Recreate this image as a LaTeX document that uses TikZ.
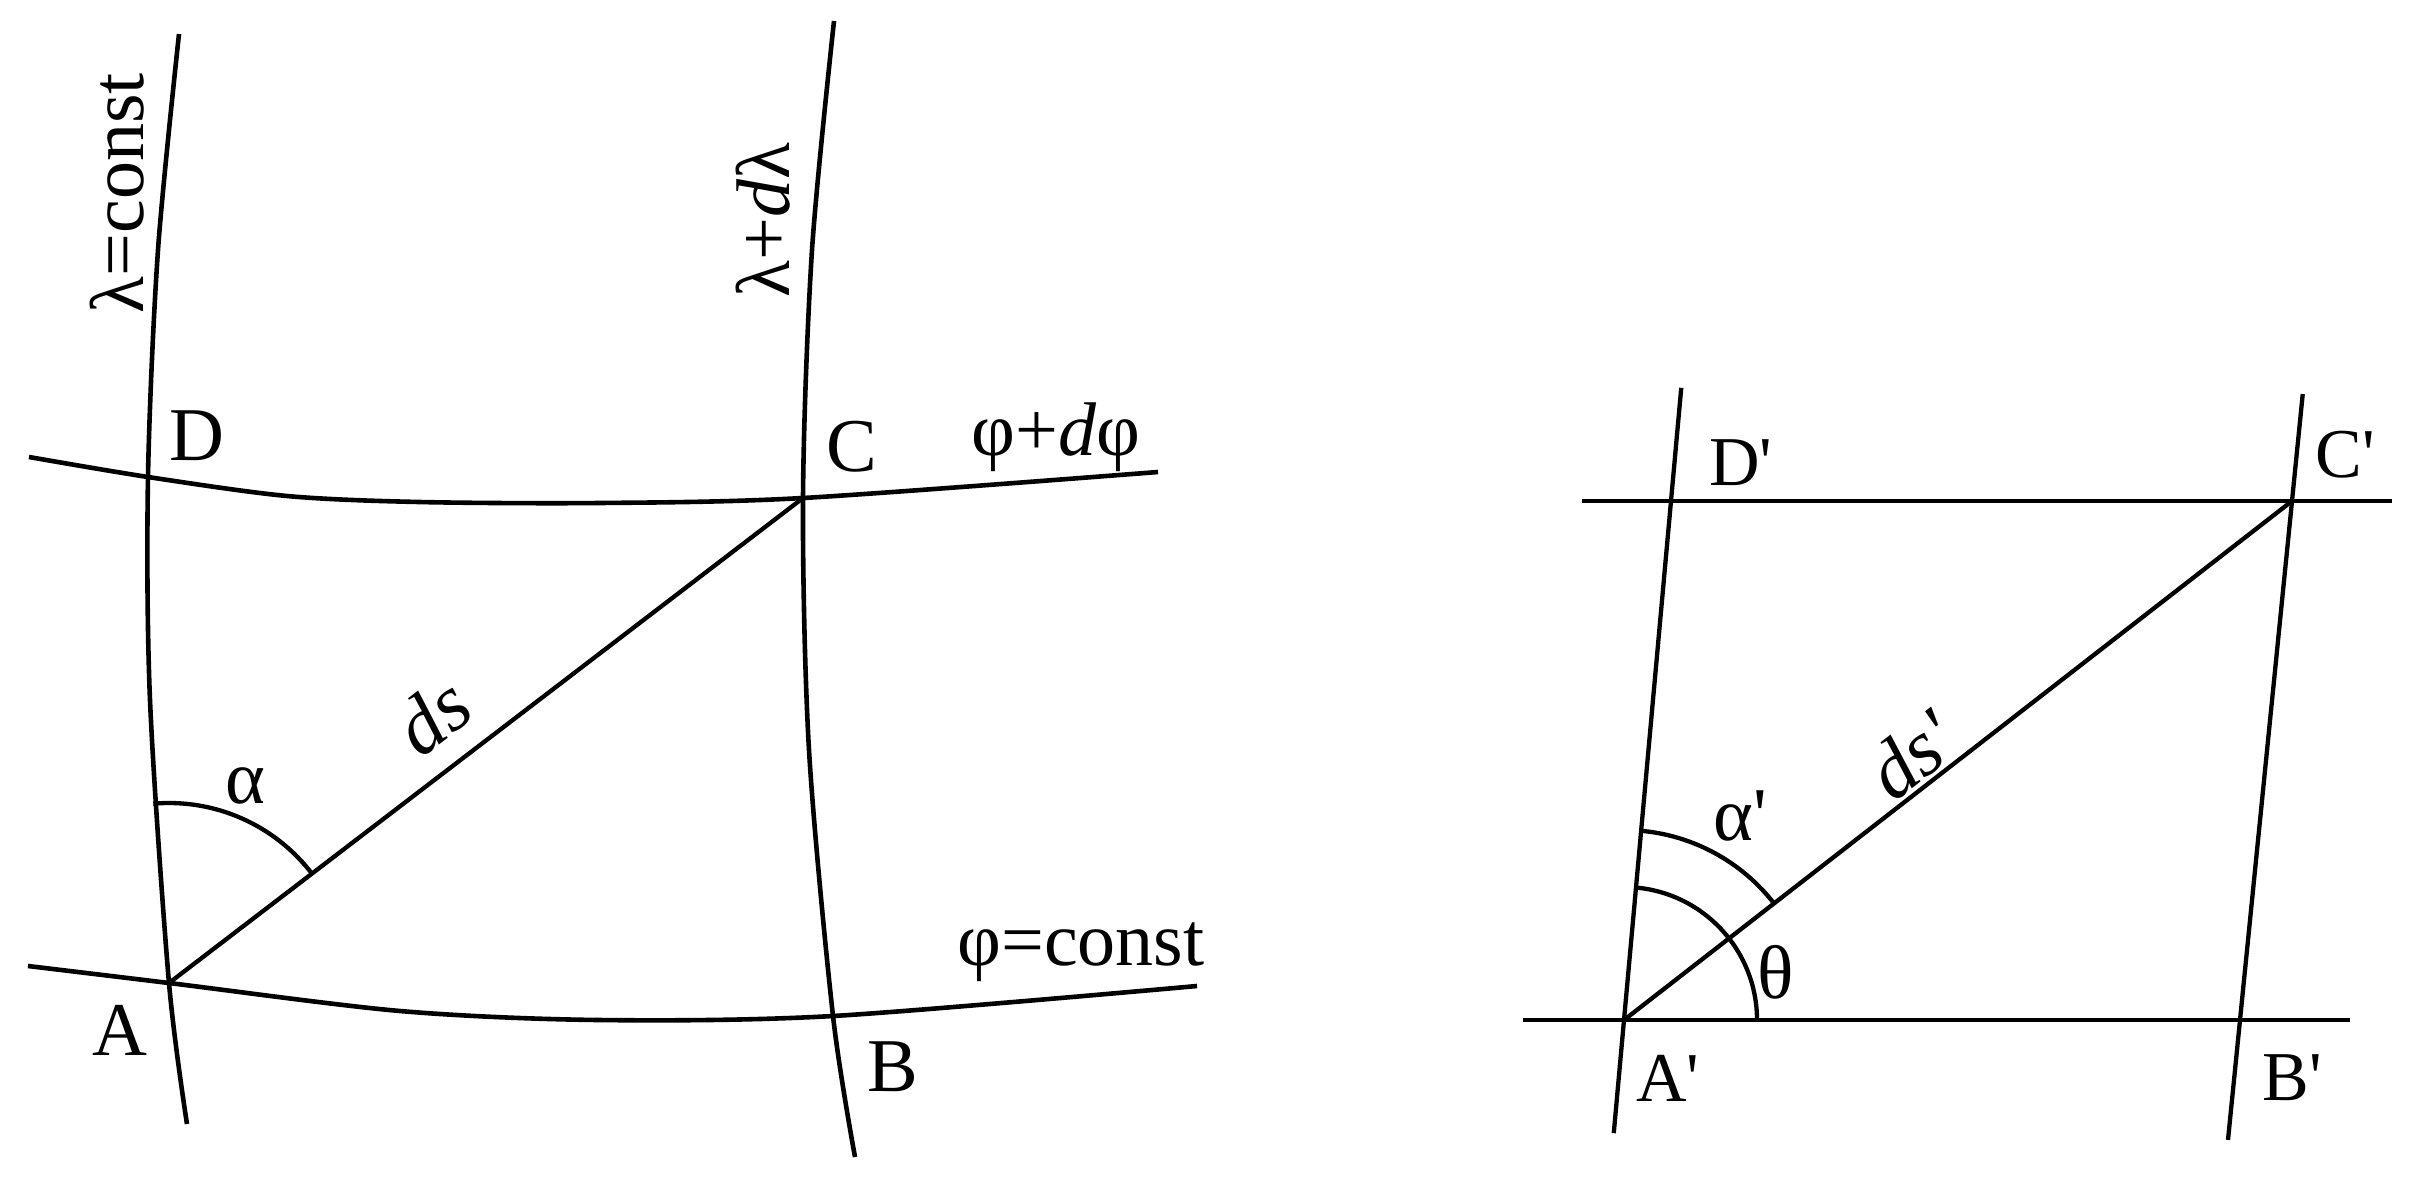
\documentclass[tikz,border=0pt]{standalone}
\usepackage{fontspec}
\setmainfont{Liberation Serif}[Ligatures=TeXOff]
\usetikzlibrary{calc}
\begin{document}
\begin{tikzpicture}[x=1pt,y=-1pt,
  geo/.style={line width=4.3pt},
  crv/.style={line width=4.6pt},
  lab/.style={inner sep=0pt, font=\fontsize{76}{80}\selectfont},
  slab/.style={inner sep=0pt, font=\fontsize{70}{74}\selectfont},
  glab/.style={inner sep=0pt, font=\fontsize{76}{80}\selectfont},
  dlab/.style={inner sep=0pt, font=\fontsize{80}{84}\selectfont\itshape}]
\useasboundingbox[fill=white] (0,0) rectangle (2421,1180);
% ---------- left figure ----------
\coordinate (A) at (169,983);
\coordinate (D) at (148,477);
\coordinate (C) at (803,498);
\coordinate (B) at (833,1016);
\draw[crv] plot[smooth] coordinates {(179,34) (158,250) (D) (150,700) (A) (187,1124)};
\draw[crv] plot[smooth] coordinates {(834,21) (812,250) (C) (809,750) (B) (855,1157)};
\draw[crv] plot[smooth] coordinates {(29,457) (D) (287,496) (419,502) (600,503) (C) (1158,472)};
\draw[crv] plot[smooth] coordinates {(28,966) (A) (400,1011) (598,1020) (B) (1197,986)};
\draw[geo] (A) -- (C);
\draw[geo] ($(A)+(95:180pt)$) arc[start angle=95, end angle=37.4, radius=180pt];
\node[lab] (lD) at (197,436) {D};
\node[lab] (lC) at (852,447) {C};
\node[lab] (lA) at (120,1030) {A};
\node[lab] (lB) at (893,1067) {B};
\node[lab, rotate=90] (lam1) at (117,193) {λ=const};
\node[lab, rotate=90] (lam2) at (763,220) {λ+\textit{d}λ};
\node[lab] (phi2) at (1056,437) {φ+\textit{d}φ};
\node[lab] (phi1) at (1081,952) {φ=const};
\node[glab] (alpha) at (245,786) {α};
\node[dlab, rotate=37.5] (ds) at (432,716) {ds};
% ---------- right figure ----------
\coordinate (Ap) at (1624,1020);
\coordinate (Bp) at (2240,1020);
\coordinate (Cp) at (2292,501);
\coordinate (Dp) at (1671,501);
\draw[geo] ($(Dp)+(-89,0)$) -- ($(Cp)+(100,0)$);
\draw[geo] ($(Ap)+(-101,0)$) -- ($(Bp)+(110,0)$);
\draw[geo] ($(Dp)!-0.218!(Ap)$) -- ($(Ap)!-0.218!(Dp)$);
\draw[geo] ($(Cp)!-0.206!(Bp)$) -- ($(Bp)!-0.231!(Cp)$);
\draw[geo] (Ap) -- (Cp);
\draw[geo] ($(Ap)+(0:133pt)$) arc[start angle=0, end angle=84.8, radius=133pt];
\draw[geo] ($(Ap)+(37.8:190pt)$) arc[start angle=37.8, end angle=84.8, radius=190pt];
\node[slab] (lDp) at (1741,463) {D'};
\node[slab] (lCp) at (2345,455) {C'};
\node[slab] (lAp) at (1668,1078) {A'};
\node[slab] (lBp) at (2292,1078) {B'};
\node[glab] (alphap) at (1740,816) {α'};
\node[glab] (theta) at (1776,972) {θ};
\node[dlab, rotate=38] (dsp) at (1911,755) {ds'};
\end{tikzpicture}
\end{document}
